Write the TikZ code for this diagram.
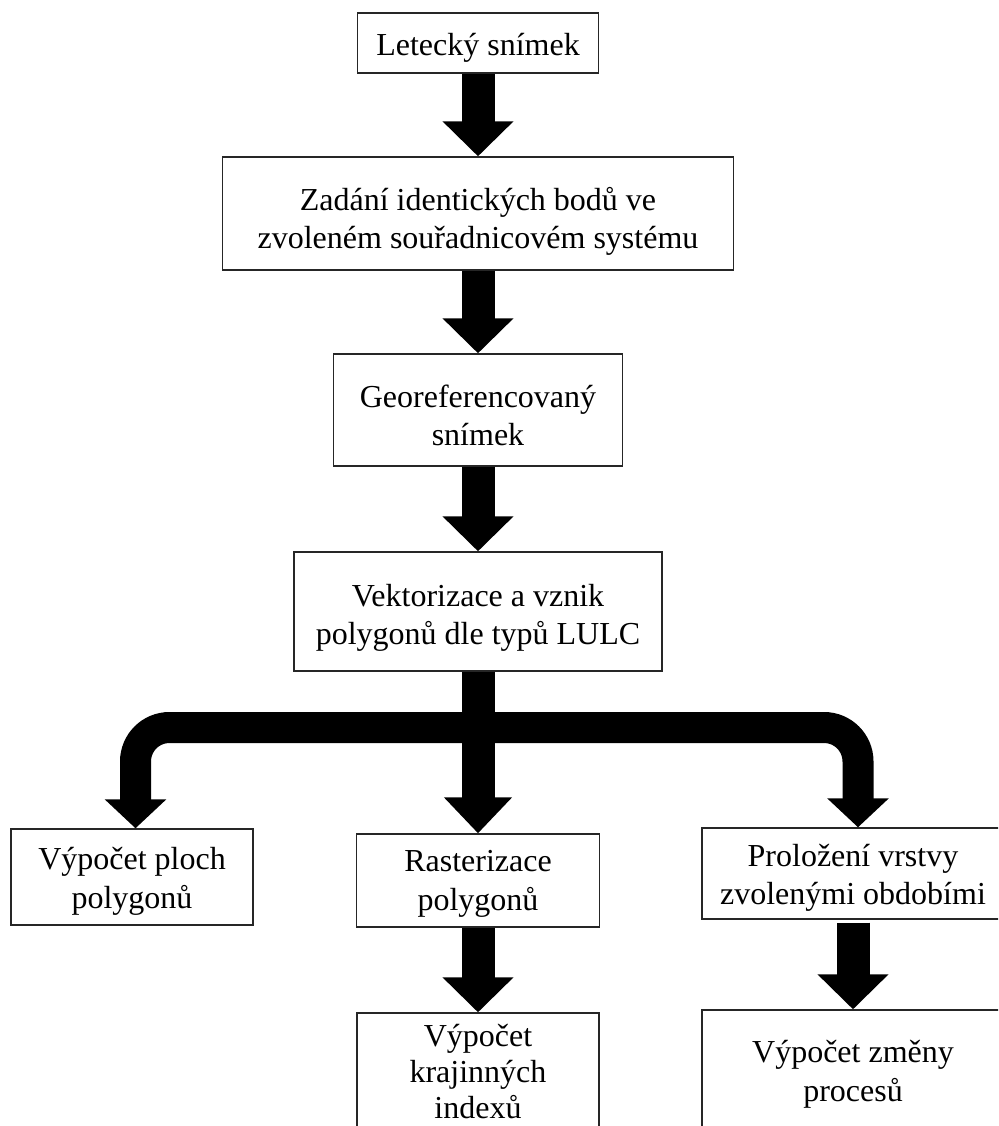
\documentclass[tikz,border=0pt]{standalone}
\usepackage{fontspec}
\setmainfont{Liberation Serif}
\usetikzlibrary{arrows.meta}
\begin{document}
\begin{tikzpicture}[x=1pt,y=-1pt,
  box/.style={draw=black!85, line width=1.4pt, fill=white, inner sep=0pt},
  txt/.style={align=center, inner sep=0pt, font=\fontsize{32}{38.5}\selectfont},
  fatarrow/.style={line width=33pt, -{Triangle[width=69pt,length=35pt]}},
  midarrow/.style={line width=33pt, -{Triangle[width=66pt,length=36pt]}},
  brancharrow/.style={line width=31pt, rounded corners=34pt, -{Triangle[width=60pt,length=29pt]}}
]
\useasboundingbox (0,0) rectangle (998,1126);
\clip (0,0) rectangle (998,1126);

% boxes
\node[box, minimum width=241pt, minimum height=60pt] (b1) at (478,43) {};
\node[box, minimum width=511pt, minimum height=113pt] (b2) at (478,213.5) {};
\node[box, minimum width=289pt, minimum height=112pt] (b3) at (478,410) {};
\node[box, minimum width=368pt, minimum height=119pt] (b4) at (478,611.5) {};
\node[box, minimum width=242pt, minimum height=96pt] (b5) at (132,877) {};
\node[box, minimum width=243pt, minimum height=93pt] (b6) at (478,880.5) {};
\node[box, minimum width=302pt, minimum height=91pt] (b7) at (853,873.5) {};
\node[box, minimum width=242pt, minimum height=130pt] (b8) at (478,1078) {};
\node[box, minimum width=302pt, minimum height=124pt] (b9) at (853,1072) {};

% texts
\node[txt] (t1) at (478,48) {Letecký snímek};
\node[txt] (t2) at (478,221.5) {Zadání identických bodů ve\\zvoleném souřadnicovém systému};
\node[txt] (t3) at (478,415.5) {Georeferencovaný\\snímek};
\node[txt] (t4) at (478,618) {Vektorizace a vznik\\polygonů dle typů LULC};
\node[txt] (t5) at (132,881.5) {Výpočet ploch\\polygonů};
\node[txt] (t6) at (478,884) {Rasterizace\\polygonů};
\node[txt] (t7) at (853,878) {Proložení vrstvy\\zvolenými obdobími};
\node[txt, font=\fontsize{32}{36}\selectfont] (t8) at (478,1072) {Výpočet\\krajinných\\indexů};
\node[txt] (t9) at (853,1074.5) {Výpočet změny\\procesů};

\coordinate (split) at (478,727.5);

\draw[fatarrow] (b1.south) -- (b2.north);
\draw[fatarrow] (b2.south) -- (b3.north);
\draw[fatarrow] (b3.south) -- (b4.north);
\draw[brancharrow] (split) -| ([xshift=3.5pt]b5.north);
\draw[brancharrow] (split) -| ([xshift=5pt]b7.north);
\draw[midarrow] (b4.south) -- (b6.north);
\draw[fatarrow] (b6.south) -- (b8.north);
\draw[fatarrow, shorten <=3pt] (b7.south) -- (b9.north);
\end{tikzpicture}
\end{document}
